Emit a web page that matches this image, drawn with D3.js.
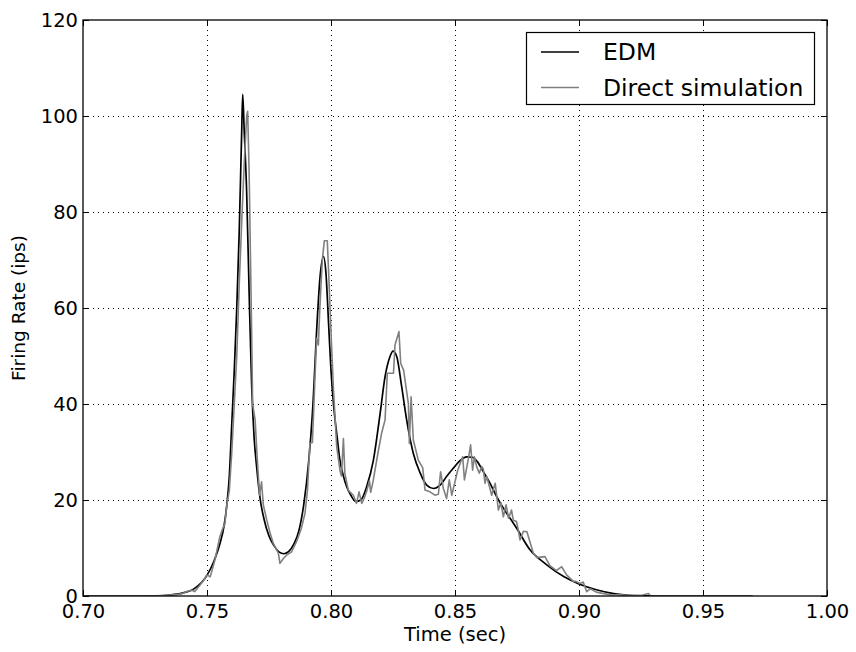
<!DOCTYPE html>
<html>
<head>
<meta charset="utf-8">
<script src="https://cdn.jsdelivr.net/npm/d3@7"></script>
<style>
  html, body { margin: 0; padding: 0; background: #fff; }
  text { font-family: "DejaVu Sans", sans-serif; fill: #000; }
</style>
</head>
<body>
<svg id="chart" width="856" height="652"></svg>
<script>
// ---- data ----
const xTicks = [0.70, 0.75, 0.80, 0.85, 0.90, 0.95, 1.00];
const xTickLabels = ["0.70", "0.75", "0.80", "0.85", "0.90", "0.95", "1.00"];
const yTicks = [0, 20, 40, 60, 80, 100, 120];
const yTickLabels = ["0", "20", "40", "60", "80", "100", "120"];
const seriesNames = ["EDM", "Direct simulation"];

const edmTime = [0.700, 0.720, 0.730, 0.735, 0.740, 0.745, 0.750, 0.753, 0.755, 0.757, 0.758, 0.759,
  0.760, 0.761, 0.762, 0.763, 0.764, 0.7644, 0.765, 0.766, 0.767, 0.768, 0.769, 0.770, 0.7715,
  0.773, 0.775, 0.777, 0.779, 0.781, 0.783, 0.785, 0.787, 0.789, 0.791, 0.7925, 0.7945, 0.7955,
  0.797, 0.798, 0.799, 0.800, 0.801, 0.8025, 0.8036, 0.805, 0.8063, 0.808, 0.810, 0.812, 0.8144,
  0.8171, 0.8198, 0.8218, 0.8238, 0.825, 0.8265, 0.8285, 0.8305, 0.8332, 0.8359, 0.8386, 0.8413,
  0.844, 0.8466, 0.8493, 0.852, 0.8547, 0.857, 0.859, 0.8614, 0.8641, 0.8668, 0.8695, 0.8722,
  0.875, 0.880, 0.887, 0.894, 0.900, 0.907, 0.914, 0.920, 0.930, 0.940, 0.970];
const edmRate = [0, 0, 0.05, 0.2, 0.6, 1.6, 4.3, 7.5, 10.5, 15, 19, 25,
  36, 47, 60, 76, 97, 104.5, 97, 84, 63, 44, 33, 27, 20,
  16, 12.5, 10.5, 9.2, 8.8, 9.3, 10.8, 13.5, 19, 28, 38, 58, 66,
  70.7, 67, 57, 47, 40, 33, 28.3, 25, 22.8, 21, 19.7, 20, 22.8,
  28.3, 38, 45.7, 49.9, 51, 49.9, 43.6, 36.7, 29.7, 25.7, 23.1, 22.4,
  23.1, 24.9, 26.6, 28.2, 29.0, 28.9, 28, 25.9, 23.5, 20.7, 18.3, 16.2,
  14, 9.8, 6.5, 4.0, 2.5, 1.3, 0.5, 0.15, 0.03, 0, 0];

const simTime = [0.700, 0.730, 0.735, 0.738, 0.740, 0.742, 0.744, 0.745, 0.7472, 0.749, 0.7499, 0.7513,
  0.7532, 0.7552, 0.7566, 0.7572, 0.7579, 0.759, 0.760, 0.761, 0.762, 0.763, 0.764, 0.765, 0.766,
  0.7664, 0.767, 0.768, 0.7684, 0.7694, 0.7703, 0.7712, 0.772, 0.7727, 0.7741, 0.7755, 0.7767,
  0.7788, 0.7794, 0.7808, 0.7821, 0.7841, 0.7861, 0.788, 0.7895, 0.7905, 0.7915, 0.7925, 0.7935,
  0.7942, 0.7949, 0.7955, 0.7965, 0.7973, 0.7985, 0.799, 0.800, 0.801, 0.8023, 0.8036, 0.8042,
  0.805, 0.8056, 0.807, 0.809, 0.8103, 0.8113, 0.8124, 0.8135, 0.8145, 0.8155, 0.816, 0.817,
  0.818, 0.819, 0.8204, 0.8218, 0.8227, 0.8252, 0.8258, 0.8274, 0.8281, 0.8293, 0.8312, 0.8316,
  0.8323, 0.8332, 0.8352, 0.837, 0.8379, 0.8399, 0.8419, 0.8433, 0.8442, 0.8453, 0.8466, 0.8477,
  0.8487, 0.8500, 0.8511, 0.852, 0.8531, 0.8538, 0.8554, 0.8563, 0.8571, 0.8578, 0.8587, 0.8598,
  0.8608, 0.8614, 0.8621, 0.8628, 0.8641, 0.8648, 0.8662, 0.8675, 0.8685, 0.8695, 0.8706, 0.8716,
  0.8728, 0.8735, 0.8748, 0.8755, 0.8762, 0.8776, 0.879, 0.8816, 0.883, 0.8863, 0.8883, 0.8909,
  0.893, 0.895, 0.8976, 0.899, 0.9004, 0.9017, 0.9031, 0.9045, 0.907, 0.910, 0.913, 0.916, 0.920,
  0.925, 0.928, 0.929, 0.935, 0.970];
const simRate = [0, 0, 0.2, 0.3, 0.5, 1.0, 1.2, 0.9, 2.3, 3.5, 4.4, 4.0,
  7.5, 12.4, 14.4, 15.0, 18.6, 22, 30, 40, 50, 65, 78, 90, 100,
  101, 88, 55, 40, 36.7, 28.3, 21, 23.8, 19, 15.8, 13, 11,
  8.9, 6.8, 7.8, 8.5, 9.2, 11.3, 14, 17.2, 22, 31.8, 32, 45,
  53.7, 52.3, 60, 70, 74, 74, 68, 55, 43, 31.1, 26.2, 25,
  32.8, 25.5, 22, 21, 19.3, 21.7, 19.3, 20.5, 22, 24, 21.6, 24,
  27, 30, 33.9, 36.7, 46.4, 46.4, 52.3, 55.1, 48.5, 47, 40.1, 31.8,
  41.5, 32.5, 28.3, 26.7, 22.1, 21.7, 21, 21.2, 25.9, 22.4, 20.3, 24.2,
  21, 23.8, 26.2, 27.5, 29, 24.2, 28.6, 31.5, 26.2, 29, 27, 25.6,
  27, 26.5, 23.5, 24.9, 22.4, 21, 23.5, 17.9, 19.4, 16.5, 19, 16.2,
  17.9, 15.8, 15.5, 13.8, 11.7, 13.5, 13.4, 8.9, 8, 8.2, 6.3, 5.3,
  6.1, 4.4, 3.1, 3, 2.6, 2.9, 0.9, 1.5, 0.8, 0.5, 0.2, 0.3, 0.1,
  0.1, 0.5, 0, 0, 0];

// ---- layout ----
const svg = d3.select("#chart");
const L = 83, R = 827, T = 20, B = 596;
const x = d3.scaleLinear().domain([0.70, 1.00]).range([L, R]);
const y = d3.scaleLinear().domain([0, 120]).range([B, T]);

svg.append("rect").attr("width", 856).attr("height", 652).attr("fill", "#fff");

svg.append("defs").append("clipPath").attr("id", "clip")
  .append("rect").attr("x", L).attr("y", T).attr("width", R - L).attr("height", B - T);

// grid
const grid = svg.append("g");
grid.selectAll(".gx").data(xTicks.slice(1, -1)).join("line")
  .attr("x1", d => Math.round(x(d)) + 0.5).attr("x2", d => Math.round(x(d)) + 0.5)
  .attr("y1", T).attr("y2", B)
  .attr("stroke", "#000").attr("stroke-width", 1).attr("stroke-dasharray", "1,4");
grid.selectAll(".gy").data(yTicks.slice(1, -1)).join("line")
  .attr("y1", d => Math.round(y(d)) + 0.5).attr("y2", d => Math.round(y(d)) + 0.5)
  .attr("x1", L).attr("x2", R)
  .attr("stroke", "#000").attr("stroke-width", 1).attr("stroke-dasharray", "1,4");

// lines
const plot = svg.append("g").attr("clip-path", "url(#clip)");
const edm = edmTime.map((t, i) => [t, edmRate[i]]);
const sim = simTime.map((t, i) => [t, simRate[i]]);
plot.append("path").datum(edm)
  .attr("d", d3.line().x(d => x(d[0])).y(d => y(d[1])).curve(d3.curveMonotoneX))
  .attr("fill", "none").attr("stroke", "#000").attr("stroke-width", 1.7);
plot.append("path").datum(sim)
  .attr("d", d3.line().x(d => x(d[0])).y(d => y(d[1])))
  .attr("fill", "none").attr("stroke", "#808080").attr("stroke-width", 1.6)
  .attr("stroke-linejoin", "round");

// axes (ticks inside on all four sides)
const tickLen = 6;
const axB = d3.axisBottom(x).tickValues(xTicks).tickFormat((d, i) => xTickLabels[i]).tickSizeInner(-tickLen).tickSizeOuter(0).tickPadding(8);
const axT = d3.axisTop(x).tickValues(xTicks).tickFormat("").tickSizeInner(-tickLen).tickSizeOuter(0);
const axLf = d3.axisLeft(y).tickValues(yTicks).tickFormat((d, i) => yTickLabels[i]).tickSizeInner(-tickLen).tickSizeOuter(0).tickPadding(5);
const axRt = d3.axisRight(y).tickValues(yTicks).tickFormat("").tickSizeInner(-tickLen).tickSizeOuter(0);

function style(g) {
  g.select(".domain").remove();
  g.selectAll(".tick line").attr("stroke", "#000").attr("stroke-width", 1);
  g.selectAll(".tick text").attr("font-family", "DejaVu Sans").attr("font-size", 19.5).attr("fill", "#000");
}
svg.append("g").attr("transform", `translate(0,${B})`).call(axB).call(style);
svg.append("g").attr("transform", `translate(0,${T})`).call(axT).call(style);
svg.append("g").attr("transform", `translate(${L},0)`).call(axLf).call(style);
svg.append("g").attr("transform", `translate(${R},0)`).call(axRt).call(style);

// frame
svg.append("rect").attr("x", L).attr("y", T).attr("width", R - L).attr("height", B - T)
  .attr("fill", "none").attr("stroke", "#000").attr("stroke-width", 1.3);

// axis labels
svg.append("text").attr("x", (L + R) / 2).attr("y", 641).attr("text-anchor", "middle")
  .attr("font-size", 19.5).text("Time (sec)");
svg.append("text").attr("transform", `translate(25,${(T + B) / 2}) rotate(-90)`)
  .attr("text-anchor", "middle").attr("font-size", 18.5).text("Firing Rate (ips)");

// legend
const lg = svg.append("g");
lg.append("rect").attr("x", 526.5).attr("y", 32.5).attr("width", 288).attr("height", 72)
  .attr("fill", "#fff").attr("stroke", "#000").attr("stroke-width", 1.2);
const lgColors = ["#000", "#808080"];
const lgY = [52, 87.5];
seriesNames.forEach((name, i) => {
  lg.append("line").attr("x1", 541).attr("x2", 579).attr("y1", lgY[i]).attr("y2", lgY[i])
    .attr("stroke", lgColors[i]).attr("stroke-width", i === 0 ? 1.7 : 1.6);
  lg.append("text").attr("x", 603).attr("y", lgY[i] + 8).attr("font-size", 23.5).text(name);
});
</script>
</body>
</html>
